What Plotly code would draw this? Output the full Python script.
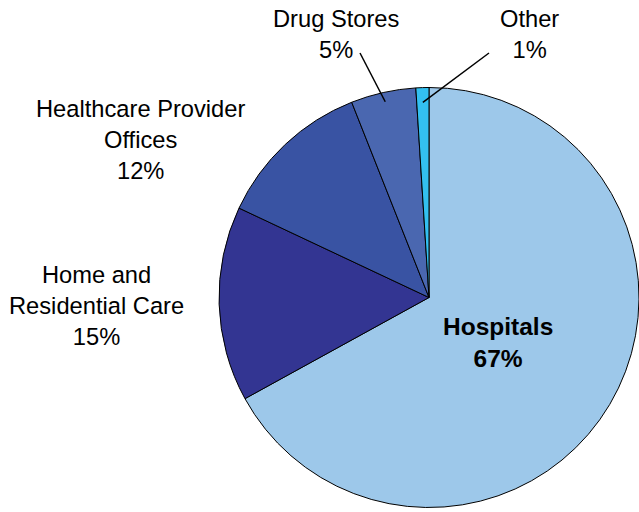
import math
import plotly.graph_objects as go

# Share of spending by setting (percent)
categories = ["Hospitals", "Home and Residential Care", "Healthcare Provider Offices",
              "Drug Stores", "Other"]
shares = [67, 15, 12, 5, 1]
colors = ["#9DC8EA", "#333592", "#3953A3", "#4A67B0", "#33C0F0"]

W, H = 639, 512
# pie placement in pixels
CX, CY, R = 429, 297.5, 210


def px(x):
    return x / W


def py(y):
    return 1 - y / H


fig = go.Figure(go.Pie(
    labels=categories,
    values=shares,
    sort=False,
    direction="clockwise",
    rotation=0,
    marker=dict(colors=colors, line=dict(color="#000000", width=1)),
    textinfo="none",
    hoverinfo="label+percent",
    showlegend=False,
    domain=dict(x=[px(CX - R), px(CX + R)], y=[py(CY + R), py(CY - R)]),
))

font = dict(family="Liberation Sans, Arial, sans-serif", size=23.7, color="#000000")
label_lines = {
    "Hospitals": ["Hospitals"],
    "Home and Residential Care": ["Home and", "Residential Care"],
    "Healthcare Provider Offices": ["Healthcare Provider", "Offices"],
    "Drug Stores": ["Drug Stores"],
    "Other": ["Other"],
}
# label block centres in pixels
label_pos = {
    "Hospitals": (498, 342),
    "Home and Residential Care": (96, 306),
    "Healthcare Provider Offices": (140, 140),
    "Drug Stores": (336, 34),
    "Other": (529, 34),
}

annotations = []
for cat, val in zip(categories, shares):
    lines = label_lines[cat] + [f"{val}%"]
    text = "<br>".join(lines)
    f = dict(font)
    if cat == "Hospitals":
        text = "<b>" + text + "</b>"
        f["size"] = 24.5
    x, y = label_pos[cat]
    annotations.append(dict(
        text=text, x=px(x), y=py(y), xref="paper", yref="paper",
        xanchor="center", yanchor="middle", showarrow=False, font=f,
    ))

# leader lines for the two thin slices, aimed at each slice's middle
total = sum(shares)
cum = 0
mids = {}
for cat, val in zip(categories, shares):
    mids[cat] = (cum + val / 2) / total * 2 * math.pi
    cum += val

shapes = []
leaders = {"Drug Stores": ((360, 53), 0.955), "Other": ((489, 53), 0.93)}
for cat, ((sx, sy), k) in leaders.items():
    a = mids[cat]
    ex = CX + R * k * math.sin(a)
    ey = CY - R * k * math.cos(a)
    shapes.append(dict(type="line", xref="paper", yref="paper",
                       x0=px(sx), y0=py(sy), x1=px(ex), y1=py(ey),
                       line=dict(color="#000000", width=1.5)))

fig.update_layout(
    width=W, height=H,
    margin=dict(l=0, r=0, t=0, b=0),
    paper_bgcolor="#FFFFFF",
    plot_bgcolor="#FFFFFF",
    annotations=annotations,
    shapes=shapes,
)

fig.write_html("out.html")
